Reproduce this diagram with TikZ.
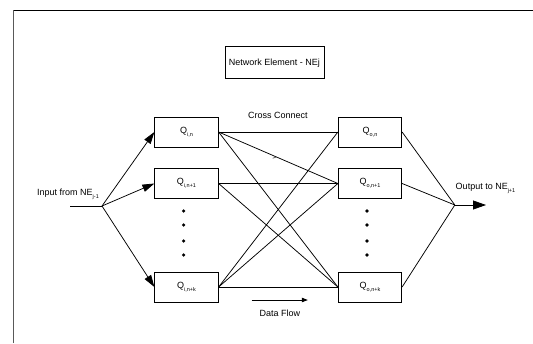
\documentclass[tikz,border=0pt]{standalone}
\usepackage{fontspec}
\setmainfont{Liberation Sans}
\usetikzlibrary{arrows.meta,positioning}
\tikzset{
    queue/.style={draw,minimum width=63.5pt,minimum height=30pt,inner sep=0pt,font=\fontsize{9}{10}\selectfont},
    tag/.style={inner sep=0pt,font=\fontsize{9}{10}\selectfont},
    feed/.style={-{Triangle[length=12pt,width=7.5pt]}},
    vdot/.style={circle,fill,inner sep=0pt,minimum size=3.6pt}
}
\newcommand{\qsub}[1]{Q\raisebox{-3pt}{\fontsize{5.5}{6}\selectfont #1}}
\newcommand{\nesub}[1]{NE\raisebox{-3pt}{\fontsize{5.5}{6}\selectfont #1}}

\begin{document}
\begin{tikzpicture}[x=1pt,y=-1pt,line width=0.75pt]
        \useasboundingbox (0,0) rectangle (533,343);
        \draw[gray!70!black] (13.5,343) -- (13.5,10);
        \draw (13.5,10) -- (533,10);

        \node[draw,minimum width=99pt,minimum height=32pt,tag] (ne) at (274.5,62.7) {Network Element - NEj};

        \node[queue] (qi1) at (186.5,132) {\qsub{i,n}};
        \node[queue] (qi2) at (186.5,183.5) {\qsub{i,n+1}};
        \node[queue] (qi3) at (186.5,287) {\qsub{i,n+k}};
        \node[queue] (qo1) at (370,132) {\qsub{o,n}};
        \node[queue] (qo2) at (370,183.5) {\qsub{o,n+1}};
        \node[queue] (qo3) at (370,287) {\qsub{o,n+k}};

        \foreach \y in {211,225,241,255} {
            \node[vdot] at (183.6,\y) {};
            \node[vdot] at (367,\y) {};
        }

        \coordinate (src) at (70,206);
        \coordinate (in) at (102,206);
        \coordinate (out) at (454.8,205);
        \coordinate (dst) at (486,205);

        \node[tag] (inlbl) at (68,194) {Input from \nesub{j-1}};
        \node[tag] (outlbl) at (485.5,188) {Output to \nesub{j+1}};
        \node[tag] (cc) at (278,115) {Cross Connect};
        \node[tag] (df) at (280,313) {Data Flow};

        \draw (src) -- (in);
        \draw[feed] (in) -- (qi1.west);
        \draw[feed] (in) -- (qi2.west);
        \draw[feed] (in) -- (qi3.west);

        \draw (qi1.east) -- (qo1.west);
        \draw (qi1.east) -- (qo2.west) coordinate[pos=0.47] (tk);
        \draw (qi1.east) -- (qo3.west);
        \draw (qi2.east) -- (qo2.west);
        \draw (qi2.east) -- (qo3.west);
        \draw (qi3.east) -- (qo1.west);
        \draw (qi3.east) -- (qo2.west);
        \draw (qi3.east) -- (qo3.west);
        \draw[line width=0.5pt] ([shift={(-2,2)}]tk) -- ++(3,-0.8);

        \draw (qo1.east) -- (out);
        \draw (qo2.east) -- (out);
        \draw (qo3.east) -- (out);
        \draw[-{Triangle[length=13pt,width=9pt]}] (out) -- (dst);

        \coordinate (dfa) at (251.7,300);
        \coordinate (dfb) at (307.8,300);
        \draw[-{Triangle[length=6pt,width=4.5pt]}] (dfa) -- (dfb);
    \end{tikzpicture}
\end{document}
